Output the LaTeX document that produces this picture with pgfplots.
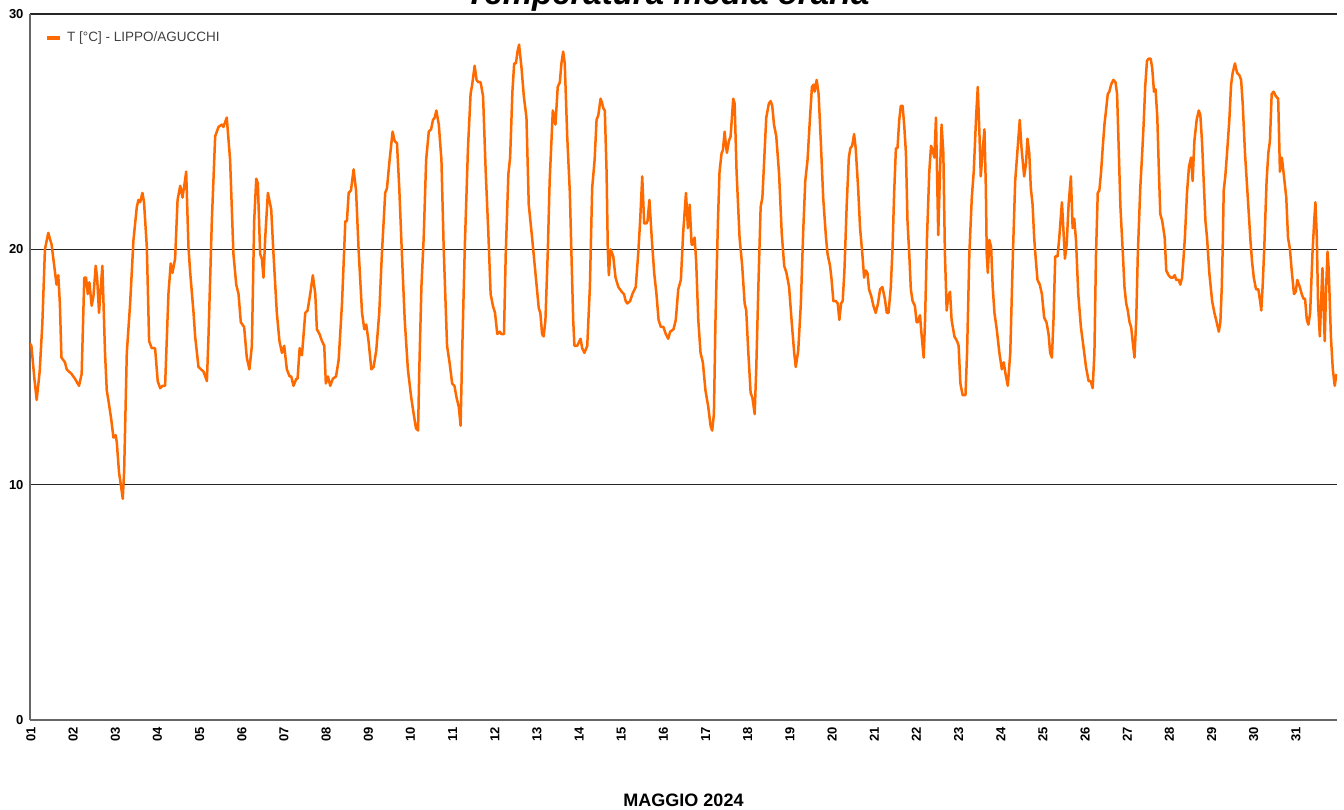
\documentclass[border=0pt]{standalone}
\usepackage{fontspec}
\setmainfont{Liberation Sans}
\usepackage{pgfplots}
\pgfplotsset{compat=1.18}
\definecolor{linea}{RGB}{255,106,0}

\begin{document}
\begin{tikzpicture}
\begin{axis}[
    scale only axis,
    width=1307pt, height=706pt,
    xmin=0, xmax=744, ymin=0, ymax=30,
    axis lines=left,
    axis line style={-, draw=black!60, line width=1.4pt},
    xtick={0,24,...,720},
    xticklabels={01,02,03,04,05,06,07,08,09,10,11,12,13,14,15,16,17,18,19,20,21,22,23,24,25,26,27,28,29,30,31},
    ytick={0,10,20,30},
    ymajorgrids,
    grid style={black!85, line width=1.1pt},
    major tick length=0pt,
    /pgf/number format/assume math mode=true,
    tick label style={font=\fontsize{13}{13}\selectfont\bfseries},
    x tick label style={rotate=90, anchor=east, yshift=-1pt, xshift=0pt},
    xticklabel shift=4pt,
    yticklabel style={xshift=-3pt},
    xlabel={MAGGIO 2024},
    xlabel style={at={(axis description cs:0.5,0)}, anchor=center, yshift=-80pt,
        font=\fontsize{18}{18}\selectfont\bfseries},
    title={Temperatura media oraria},
    title style={at={(axis description cs:0.5,1)}, anchor=base, xshift=-16pt, yshift=3pt,
        font=\fontsize{33}{33}\selectfont\bfseries\itshape},
    legend style={at={(axis description cs:0,1)}, anchor=north west, xshift=12pt, yshift=-14pt,
        draw=none, fill=none, font=\fontsize{13.5}{14}\selectfont, text=black!75},
    legend cell align=left,
    legend image code/.code={\draw[#1, line width=4pt] (0pt,0pt) -- (13pt,0pt);},
]
\addplot[linea, line width=2.5pt, line join=round] coordinates {
(0,16.0) (0.8,15.9) (2.5,14.5) (3.8,13.6) (5.5,14.8) (7.0,16.8) (8.5,20.0) (10.4,20.7)
(12.3,20.2) (15.1,18.5) (16.1,18.9) (17.0,17.7) (17.9,15.4) (19.9,15.2) (20.9,14.9) (23.7,14.7)
(25.6,14.5) (27.9,14.2) (29.4,14.7) (30.9,18.8) (31.9,18.8) (32.9,18.1) (33.8,18.6) (35.1,17.6)
(36.1,18.0) (37.4,19.3) (38.2,18.8) (39.3,17.3) (40.3,18.4) (41.2,19.3) (42.7,15.6) (43.7,14.0)
(44.6,13.6) (46.2,12.8) (47.5,12.0) (48.8,12.1) (49.4,11.8) (50.7,10.5) (51.9,9.9) (52.8,9.4)
(53.6,10.6) (55.1,15.6) (57.0,17.7) (58.9,20.4) (60.8,21.8) (61.7,22.1) (62.7,22.0) (64.0,22.4)
(64.9,22.0) (66.5,20.1) (67.8,16.1) (69.3,15.8) (71.2,15.8) (72.7,14.4) (74.1,14.1) (75.4,14.2)
(76.9,14.2) (78.8,18.1) (80.1,19.4) (81.1,19.0) (82.6,19.6) (84.0,22.1) (85.5,22.7) (86.8,22.2)
(88.0,22.8) (88.9,23.3) (90.2,20.1) (91.2,19.0) (93.1,17.3) (94.0,16.3) (95.9,15.0) (98.8,14.8)
(100.7,14.4) (101.6,16.3) (103.5,21.2) (105.4,24.8) (107.3,25.2) (109.2,25.3) (110.1,25.2) (112.0,25.6)
(113.9,23.8) (115.8,19.8) (117.4,18.5) (118.7,18.1) (120.0,16.9) (121.9,16.7) (123.4,15.4) (124.9,14.9)
(126.3,15.9) (127.6,21.2) (128.8,23.0) (129.7,22.8) (131.0,19.8) (132.0,19.6) (132.9,18.8) (133.9,20.5)
(135.4,22.4) (137.3,21.7) (138.6,19.8) (140.5,17.3) (142.0,16.1) (143.4,15.6) (144.7,15.9) (146.2,14.9)
(147.8,14.6) (148.7,14.6) (150.0,14.2) (151.6,14.5) (152.3,14.5) (153.5,15.8) (154.8,15.5) (156.7,17.3)
(158.0,17.4) (159.5,18.1) (161.0,18.9) (162.4,18.1) (163.3,16.6) (164.8,16.4) (166.2,16.1) (167.5,15.9)
(168.4,14.3) (169.6,14.6) (170.9,14.2) (172.4,14.5) (174.2,14.6) (175.7,15.3) (177.6,17.7) (179.5,21.2)
(180.4,21.2) (181.4,22.4) (182.7,22.5) (184.2,23.4) (185.6,22.5) (187.1,19.9) (189.0,17.3) (190.3,16.6)
(191.4,16.8) (192.7,16.1) (194.3,14.9) (195.6,15.0) (197.1,15.7) (198.8,17.3) (200.3,19.8) (202.2,22.4)
(203.2,22.6) (204.7,23.8) (206.4,25.0) (207.6,24.6) (208.9,24.5) (210.2,22.6) (211.7,19.8) (213.3,17.0)
(215.1,14.9) (217.0,13.7) (218.4,13.0) (219.7,12.4) (220.9,12.3) (221.6,14.9) (222.8,18.4) (224.1,20.5)
(225.5,23.8) (227.0,25.0) (228.3,25.1) (229.4,25.5) (230.4,25.6) (231.3,25.9) (232.7,25.3) (234.2,23.8)
(235.5,20.0) (237.4,15.9) (238.8,15.2) (240.3,14.3) (241.6,14.2) (242.8,13.7) (244.1,13.3) (245.1,12.5)
(246.0,15.6) (247.5,20.1) (249.3,24.3) (250.8,26.6) (251.7,27.0) (253.1,27.8) (254.2,27.2) (255.2,27.1)
(256.5,27.1) (257.9,26.5) (259.4,23.3) (260.9,20.7) (262.2,18.1) (263.5,17.6) (264.7,17.3) (266.0,16.4)
(267.4,16.5) (268.3,16.4) (269.8,16.4) (270.8,19.8) (272.3,23.2) (273.3,23.9) (274.6,26.7) (275.6,27.9)
(276.6,27.9) (277.5,28.4) (278.4,28.7) (279.8,27.7) (281.1,26.5) (282.6,25.6) (283.9,21.9) (285.8,20.5)
(287.7,19.0) (289.6,17.5) (290.5,17.3) (291.5,16.4) (292.4,16.3) (293.4,17.0) (294.7,19.8) (295.8,22.9)
(297.6,25.9) (299.1,25.3) (300.4,26.9) (301.6,27.1) (302.5,27.9) (303.5,28.4) (304.4,27.9) (305.8,24.8)
(307.3,22.4) (308.2,19.8) (309.2,17.0) (309.9,15.9) (311.5,15.9) (313.4,16.2) (314.3,15.8) (315.6,15.6)
(317.2,15.9) (318.7,18.4) (320.0,22.6) (321.4,23.8) (322.5,25.5) (323.5,25.7) (324.8,26.4) (325.7,26.2)
(326.3,26.0) (327.2,25.9) (328.2,23.3) (328.9,20.0) (329.5,18.9) (330.5,20.0) (332.0,19.7) (333.3,18.8)
(334.9,18.4) (336.8,18.2) (338.1,18.1) (339.1,17.8) (340.0,17.7) (341.6,17.8) (342.9,18.1) (344.8,18.4)
(346.2,19.8) (347.3,21.2) (348.5,23.1) (349.6,21.1) (350.9,21.1) (351.5,21.2) (352.6,22.1) (353.9,20.5)
(355.3,19.0) (356.6,18.1) (357.8,17.0) (359.1,16.7) (360.6,16.7) (361.9,16.4) (363.3,16.2) (364.4,16.5)
(366.3,16.6) (367.6,17.0) (369.0,18.3) (370.5,18.7) (371.8,20.7) (373.4,22.4) (374.5,20.9) (375.5,21.9)
(376.6,20.2) (377.3,20.2) (378.3,20.5) (379.2,19.5) (380.4,17.0) (381.7,15.6) (383.0,15.2) (384.5,14.0)
(386.1,13.3) (387.4,12.5) (388.3,12.3) (389.3,13.0) (390.2,17.0) (391.6,21.2) (392.5,23.3) (393.7,24.1)
(394.4,24.2) (395.4,25.0) (395.9,24.6) (396.7,24.1) (397.8,24.6) (398.8,24.8) (400.3,26.4) (401.1,26.2)
(402.2,23.3) (403.9,20.5) (405.4,19.3) (406.8,17.7) (407.7,17.4) (408.9,15.6) (410.2,13.9) (411.2,13.7)
(412.5,13.0) (413.4,14.9) (414.6,18.4) (415.9,21.8) (416.9,22.2) (417.8,23.6) (419.1,25.6) (420.6,26.2)
(421.6,26.3) (422.5,26.1) (423.5,25.3) (424.8,24.8) (426.4,23.2) (427.9,20.7) (429.3,19.3) (430.6,19.0)
(432.1,18.4) (433.6,16.9) (435.0,15.6) (435.9,15.0) (437.3,15.7) (438.8,17.7) (440.1,20.7) (441.3,22.9)
(442.6,23.8) (444.0,25.6) (445.1,26.9) (446.1,27.0) (446.6,26.7) (447.8,27.2) (448.9,26.6) (450.2,24.5)
(451.5,22.2) (453.1,20.5) (454.0,19.8) (455.4,19.3) (456.3,18.7) (457.3,17.8) (458.8,17.8) (459.8,17.7)
(460.7,17.0) (461.7,17.7) (462.6,17.8) (463.6,19.1) (464.9,21.9) (466.1,23.9) (467.0,24.3) (468.0,24.4)
(469.1,24.9) (470.0,24.3) (471.4,22.6) (472.5,20.9) (473.8,19.8) (474.8,18.8) (475.7,19.1) (476.7,19.0)
(477.6,18.3) (478.9,18.0) (480.1,17.6) (481.4,17.3) (482.7,17.7) (483.9,18.3) (485.2,18.4) (486.6,17.9)
(487.7,17.3) (488.7,17.3) (490.0,18.4) (491.0,20.1) (491.9,22.4) (492.9,24.3) (493.8,24.3) (494.8,25.5)
(495.7,26.1) (496.7,26.1) (497.6,25.3) (498.6,24.1) (499.5,21.2) (500.5,19.8) (501.4,18.3) (502.4,17.8)
(503.7,17.6) (504.7,16.9) (505.3,16.9) (506.6,17.2) (507.6,16.3) (508.7,15.4) (509.5,17.0) (510.6,20.5)
(511.9,23.3) (512.9,24.4) (513.8,24.2) (514.8,23.9) (515.7,25.6) (516.3,23.3) (517.0,20.6) (518.0,23.3)
(518.9,25.3) (519.9,24.1) (520.8,19.8) (521.8,17.4) (522.7,18.0) (523.7,18.2) (524.6,17.0) (526.2,16.3)
(527.7,16.1) (528.6,15.9) (529.6,14.3) (530.9,13.8) (532.5,13.8) (533.4,15.6) (534.7,19.8) (536.1,22.2)
(537.2,23.3) (538.6,25.7) (539.5,26.9) (540.5,24.8) (541.2,23.1) (542.4,24.3) (543.3,25.1) (544.1,22.6)
(544.6,19.8) (545.2,19.0) (546.1,20.4) (547.1,20.1) (548.0,18.4) (549.0,17.3) (550.3,16.6) (551.8,15.6)
(553.2,14.9) (554.3,15.2) (555.3,14.7) (556.6,14.2) (558.0,15.6) (559.5,19.8) (560.8,22.9) (562.0,24.1)
(563.4,25.5) (564.4,24.3) (565.9,23.1) (566.9,23.6) (567.8,24.7) (568.8,24.1) (569.7,22.6) (570.7,21.9)
(571.6,20.5) (572.6,19.5) (573.5,18.7) (574.8,18.5) (576.0,18.1) (577.3,17.1) (578.6,16.9) (579.8,16.4)
(580.7,15.6) (581.7,15.4) (582.6,17.0) (583.6,19.7) (584.9,19.7) (585.9,20.5) (587.4,22.0) (588.2,20.9)
(589.1,19.6) (590.1,20.2) (591.2,21.9) (592.5,23.1) (593.5,20.9) (594.4,21.3) (595.4,20.4) (596.7,18.1)
(598.2,16.7) (599.6,15.9) (601.1,15.0) (602.6,14.4) (603.8,14.4) (604.9,14.1) (605.9,15.6) (606.8,19.8)
(607.8,22.4) (608.7,22.5) (609.7,23.3) (610.6,24.3) (611.6,25.3) (612.5,25.9) (613.5,26.6) (614.4,26.7)
(615.4,27.0) (616.7,27.2) (617.9,27.1) (618.8,26.6) (619.8,24.1) (620.7,21.8) (622.1,19.8) (623.0,18.4)
(624.0,17.7) (624.9,17.4) (625.9,16.9) (626.8,16.7) (627.8,16.0) (628.7,15.4) (629.7,17.0) (630.6,19.8)
(632.0,22.6) (633.1,24.1) (633.9,25.3) (634.8,26.9) (635.8,28.0) (636.7,28.1) (637.9,28.1) (638.8,27.7)
(639.8,26.7) (640.7,26.8) (641.7,25.6) (642.6,23.3) (643.4,21.5) (644.5,21.2) (645.9,20.5) (646.8,19.1)
(648.1,18.9) (649.3,18.8) (650.6,18.8) (651.6,18.9) (652.5,18.7) (653.9,18.7) (654.8,18.5) (655.8,18.8)
(656.5,19.5) (657.4,20.5) (658.6,22.4) (659.7,23.5) (660.9,23.9) (661.8,22.9) (662.8,24.6) (664.1,25.5)
(665.3,25.9) (666.2,25.7) (667.2,24.5) (668.1,22.9) (669.1,21.2) (670.0,20.5) (671.3,19.0) (672.9,17.8)
(674.2,17.3) (675.5,16.9) (676.7,16.5) (677.6,16.9) (678.4,18.4) (678.9,20.0) (679.5,22.5) (680.4,23.1)
(681.4,24.1) (682.7,25.5) (683.7,27.0) (684.6,27.5) (685.9,27.9) (687.1,27.5) (688.4,27.4) (689.4,27.2)
(690.3,26.2) (691.6,24.1) (693.2,22.2) (694.7,20.4) (695.6,19.5) (696.6,18.8) (697.9,18.3) (699.2,18.3)
(700.2,17.8) (700.9,17.4) (701.7,18.5) (702.6,20.1) (703.9,22.9) (704.9,24.1) (705.8,24.6) (706.8,26.6)
(707.9,26.7) (709.2,26.5) (710.5,26.4) (711.5,23.3) (712.6,23.9) (713.8,23.1) (715.1,22.2) (716.1,20.5)
(717.2,20.0) (718.2,19.1) (719.5,18.1) (720.5,18.2) (721.4,18.7) (722.8,18.4) (723.9,18.1) (724.9,17.9)
(725.8,17.9) (726.8,17.0) (727.7,16.8) (728.7,17.3) (730.0,19.8) (731.0,21.2) (731.7,22.0) (732.5,20.5)
(733.2,17.7) (734.2,16.3) (735.1,18.1) (735.7,19.2) (736.3,17.7) (737.0,16.1) (737.8,18.4) (738.6,19.9)
(739.3,19.1) (740.5,16.3) (741.6,14.9) (742.7,14.2) (743.7,14.7)
};
\addlegendentry{\hspace{3pt}T [°C] - LIPPO/AGUCCHI}
\end{axis}
\pgfresetboundingbox
\path (-30pt,-90pt) rectangle (1314pt,720pt);
\end{tikzpicture}
\end{document}
